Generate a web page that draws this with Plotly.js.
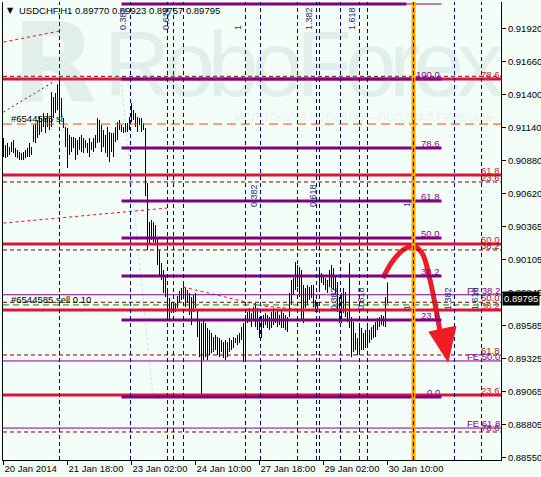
<!DOCTYPE html>
<html><head><meta charset="utf-8">
<script src="https://cdn.plot.ly/plotly-3.0.1.min.js"></script>
<style>html,body{margin:0;padding:0;background:#F4FEF8;overflow:hidden}#chart{width:541px;height:477px}</style>
</head><body><div id="chart"></div>
<script>
// ---- bar data (H1 bars, index 0 = first bar on screen) ----
const highs = [0.91058,0.91003,0.91019,0.90987,0.91026,0.91042,0.90980,0.90964,0.90948,0.90941,
0.90948,0.90964,0.90980,0.91019,0.90987,0.91160,0.91176,0.91199,0.91223,0.91215,
0.91255,0.91215,0.91255,0.91215,0.91419,0.91380,0.91412,0.91480,0.91535,0.91372,
0.91215,0.91144,0.91137,0.91082,0.91066,0.91066,0.91058,0.91042,0.91066,0.91082,
0.91058,0.91042,0.91019,0.91058,0.91026,0.91058,0.91082,0.91215,0.91199,0.91160,
0.91121,0.91082,0.91144,0.91105,0.91098,0.91098,0.91144,0.91183,0.91199,0.91160,
0.91144,0.91176,0.91176,0.91223,0.91333,0.91278,0.91255,0.91223,0.91215,0.91215,
0.91176,0.91137,0.90705,0.90398,0.90414,0.90398,0.90375,0.90280,0.90178,0.90076,
0.90021,0.89966,0.89864,0.89802,0.89770,0.89770,0.89762,0.89817,0.89856,0.89880,
0.89903,0.89880,0.89864,0.89841,0.89809,0.89825,0.89841,0.89707,0.89628,0.89605,
0.89628,0.89605,0.89566,0.89550,0.89527,0.89495,0.89511,0.89495,0.89487,0.89471,
0.89455,0.89471,0.89455,0.89487,0.89471,0.89495,0.89487,0.89511,0.89527,0.89573,
0.89605,0.89668,0.89691,0.89723,0.89684,0.89730,0.89762,0.89723,0.89652,0.89660,
0.89668,0.89684,0.89668,0.89652,0.89691,0.89723,0.89691,0.89707,0.89668,0.89707,
0.89684,0.89668,0.89652,0.89841,0.89943,0.89959,0.90084,0.90060,0.90044,0.90021,
0.89903,0.89880,0.89903,0.89887,0.89903,0.89903,0.89786,0.89770,0.90044,0.89998,
0.89982,0.89959,0.89943,0.90021,0.90060,0.90037,0.89982,0.89927,0.89809,0.89841,
0.89880,0.89848,0.89691,0.90076,0.89652,0.89612,0.89527,0.89487,0.89605,0.89566,
0.89527,0.89550,0.89589,0.89550,0.89573,0.89589,0.89612,0.89644,0.89652,0.89668,
0.89660,0.89809,0.89923];
const lows = [0.90909,0.90901,0.90909,0.90925,0.90948,0.90941,0.90909,0.90901,0.90885,0.90885,
0.90885,0.90901,0.90909,0.90909,0.90925,0.91026,0.91019,0.91058,0.91082,0.91105,
0.91144,0.91098,0.91144,0.91121,0.91144,0.91215,0.91255,0.91278,0.91183,0.91223,
0.91137,0.90987,0.90823,0.90925,0.90948,0.90980,0.90885,0.90925,0.90964,0.90948,
0.90941,0.90980,0.90941,0.90909,0.90964,0.90948,0.90980,0.91019,0.91026,0.90948,
0.90987,0.90941,0.90909,0.90869,0.90948,0.90909,0.91026,0.91042,0.91121,0.91105,
0.91098,0.91105,0.91105,0.91121,0.91183,0.91199,0.91144,0.91105,0.91160,0.91105,
0.91121,0.90602,0.90178,0.90217,0.90257,0.90241,0.90217,0.90060,0.89966,0.89943,
0.89841,0.89809,0.89628,0.89628,0.89684,0.89707,0.89691,0.89723,0.89770,0.89786,
0.89809,0.89730,0.89762,0.89668,0.89589,0.89691,0.89723,0.89495,0.89337,0.89024,
0.89314,0.89337,0.89314,0.89353,0.89369,0.89377,0.89393,0.89353,0.89337,0.89377,
0.89330,0.89314,0.89337,0.89377,0.89393,0.89409,0.89448,0.89432,0.89448,0.89471,
0.89298,0.89314,0.89605,0.89612,0.89573,0.89628,0.89573,0.89550,0.89487,0.89487,
0.89566,0.89589,0.89566,0.89550,0.89566,0.89589,0.89605,0.89573,0.89589,0.89566,
0.89566,0.89550,0.89534,0.89652,0.89746,0.89825,0.89864,0.89887,0.89809,0.89628,
0.89605,0.89723,0.89746,0.89786,0.89802,0.89730,0.89691,0.89691,0.89864,0.89919,
0.89903,0.89864,0.89841,0.89887,0.89880,0.89864,0.89825,0.89691,0.89605,0.89605,
0.89684,0.89652,0.89612,0.89566,0.89337,0.89377,0.89393,0.89353,0.89369,0.89393,
0.89393,0.89409,0.89416,0.89448,0.89471,0.89487,0.89495,0.89550,0.89573,0.89589,
0.89580,0.89573,0.89757];

// ---- header (last bar) ----
const symbolName = 'USDCHF,H1';
const lastOpen = 0.89770, lastHigh = 0.89923, lastLow = 0.89757, lastClose = 0.89795;

// ---- axes ----
const tickIdx = [0, 32, 64, 96, 128, 160, 192];
const tickText = ['20 Jan 2014','21 Jan 18:00','23 Jan 02:00','24 Jan 10:00','27 Jan 18:00','29 Jan 02:00','30 Jan 10:00'];
const priceTicks = [0.91920,0.91660,0.91400,0.91140,0.90880,0.90620,0.90365,0.90105,0.89845,0.89585,0.89325,0.89065,0.88805,0.88550];

// ---- drawn objects ----
const redFibLabels = ['78.6','61.8','50.0','38.2','23.6'];
const redFibPrices = [0.91522,0.90768,0.90226,0.89707,0.89040];
const maroonFibLabels = ['0.0','23.6','38.2','50.0','61.8','78.6'];
const maroonFibPrices = [0.91543,0.90713,0.90179,0.89768,0.89354,0.88749];
const purpleFibLabels = ['','100.0','78.6','61.8','50.0','38.2','23.6','0.0'];
const purpleFibPrices = [0.92111,0.91522,0.90980,0.90563,0.90273,0.89974,0.89629,0.89024];
const feLabels = ['FE 38.2','FE 50.0','FE 61.8'];
const fePrices = [0.89827,0.89307,0.88780];
const orderLabel = '#6544585 sell 0.10';
const orderPrice = 0.89747;
const stopLabel = '#6544585 sl';
const stopPrice = 0.91168;
const timeLines = [28, 63.5, 82, 85, 90, 121, 128.5, 147, 156.5, 158, 168.5, 178, 182, 205, 225.5, 239];
const nowLine = 205;
const tzTopIdx = [63.5, 85, 121, 156.5, 178];
const tzTopText = ['0.382','0.618','1','1.382','1.618'];
const tzMidIdx = [128.5, 158, 205];
const tzMidText = ['0.382','0.618','1'];
const tzLowIdx = [168.5, 182, 205, 225.5, 239];
const tzLowText = ['0.382','0.618','1','1.382','1.618'];
const dashLineAX = [0, 27.75], dashLineAY = [0.91812, 0.91898];
const dotLineBX = [0, 25.75], dotLineBY = [0.91262, 0.91506];
const dashLineCX = [0, 81.75], dashLineCY = [0.90390, 0.90508];
const dotLineDX = [89.75, 129.75, 146.75], dotLineDY = [0.89888, 0.89738, 0.89715];
const faintLineX = [58.75, 74.75], faintLineY = [0.91522, 0.89024];
const arrowX = [189.75, 194.25, 199.75, 204.75, 209.25, 213.25, 217.25, 218.75];
const arrowY = [0.89958, 0.90084, 0.90178, 0.90210, 0.90155, 0.89943, 0.89628, 0.89487];
const arrowHeadX = [212.75, 226.25, 222.25];
const arrowHeadY = [0.89535, 0.89580, 0.89300];

// ---- build ----
const BG = '#F4FEF8';
const FONT = 'Liberation Sans, Arial, sans-serif';
const X0 = 3, W = 498, Y0 = 2, H = 458;
const px = x => (x - X0) / W;
const py = y => (Y0 + H - y) / H;

const segX = [], segY = [];
for (let i = 0; i < highs.length; i++) { segX.push(i, i, null); segY.push(lows[i], highs[i], null); }

const traces = [
  {x: faintLineX, y: faintLineY, mode: 'lines', line: {color: '#D3D8F2', width: 1, dash: '3px,2px'}, hoverinfo: 'skip'},
  {x: segX, y: segY, mode: 'lines', line: {color: '#000', width: 1}, hoverinfo: 'skip'},
  {x: dashLineAX, y: dashLineAY, mode: 'lines', line: {color: '#E8101A', width: 1, dash: '3px,3px'}, hoverinfo: 'skip'},
  {x: dotLineBX, y: dotLineBY, mode: 'lines', line: {color: '#8B0000', width: 1, dash: '2px,3px'}, hoverinfo: 'skip'},
  {x: dashLineCX, y: dashLineCY, mode: 'lines', line: {color: '#E8101A', width: 1, dash: '3px,3px'}, hoverinfo: 'skip'},
  {x: dotLineDX, y: dotLineDY, mode: 'lines', line: {color: '#E8101A', width: 1, dash: '3px,3px'}, hoverinfo: 'skip'},
  {x: arrowX, y: arrowY, mode: 'lines', line: {color: '#EE1C25', width: 5, shape: 'spline', smoothing: 1}, hoverinfo: 'skip'}
];

const shapes = [];
const hl = (y, x0, x1, color, width, dash, ref) => shapes.push({type: 'line', xref: ref || 'x', yref: 'y', x0, x1, y0: y, y1: y, line: {color, width, dash: dash || 'solid'}, layer: 'above'});
maroonFibPrices.forEach(p => hl(p, 0, 1, '#800000', 1, '4px,3px', 'paper'));
fePrices.forEach(p => hl(p, 0, 1, '#800080', 1, 'solid', 'paper'));
hl(stopPrice, 0, 1, '#FF4500', 1, '9px,5px', 'paper');
hl(orderPrice, 0, 1, '#008000', 1, '6px,4px', 'paper');
redFibPrices.forEach(p => hl(p, 0, 1, '#DC143C', 3, 'solid', 'paper'));
purpleFibPrices.forEach((p, k) => {
  if (k === 0) { hl(p, 59, 201.5, '#800080', 3); hl(p, 201.5, 219, '#800080', 1); }
  else hl(p, 59, 219, '#800080', 3);
});
shapes.push({type: 'line', xref: 'x', yref: 'paper', x0: nowLine, x1: nowLine, y0: 0, y1: 1, line: {color: '#FFA500', width: 4}, layer: 'above'});
timeLines.forEach(t => shapes.push({type: 'line', xref: 'x', yref: 'paper', x0: t, x1: t, y0: 0, y1: 1, line: {color: '#000080', width: 1, dash: '4px,3px'}, layer: 'above'}));
shapes.push({type: 'path', xref: 'x', yref: 'y', layer: 'above',
  path: 'M' + arrowHeadX[0] + ',' + arrowHeadY[0] + ' L' + arrowHeadX[1] + ',' + arrowHeadY[1] + ' L' + arrowHeadX[2] + ',' + arrowHeadY[2] + ' Z',
  fillcolor: '#EE1C25', line: {color: '#EE1C25', width: 1}});

const ann = [];
const A = o => ann.push(Object.assign({showarrow: false, font: {family: FONT, size: 9.5, color: '#000'}, borderpad: 0}, o));
// watermark
A({text: '<span style="letter-spacing:-7px">RoboForex</span>', xref: 'paper', yref: 'paper', x: px(303), y: py(64), xanchor: 'center', yanchor: 'middle',
   font: {family: FONT, size: 92, color: 'rgba(100,140,150,0.13)'}});
A({text: 'R', xref: 'paper', yref: 'paper', x: px(54), y: py(64), xanchor: 'center', yanchor: 'middle',
   font: {family: 'DejaVu Sans, sans-serif', size: 110, weight: 'bold', color: 'rgba(100,140,150,0.13)'}});
A({text: 'ИСПОЛЬЗУЙ РОБОТОВ – ПОЛУЧАЙ ПРИБЫЛЬ', xref: 'paper', yref: 'paper', x: px(364), y: py(117), xanchor: 'center', yanchor: 'middle',
   font: {family: FONT, size: 11.5, color: 'rgba(100,140,150,0.12)'}});
// header
A({text: '▼', xref: 'paper', yref: 'paper', x: px(6), y: py(11), xanchor: 'left', yanchor: 'middle', font: {family: 'DejaVu Sans', size: 8, color: '#000'}});
A({text: symbolName + ' ' + [lastOpen, lastHigh, lastLow, lastClose].map(v => v.toFixed(5)).join(' '), xref: 'paper', yref: 'paper', x: px(18), y: py(11), xanchor: 'left', yanchor: 'middle'});
// order labels
A({text: stopLabel, xref: 'paper', yref: 'y', x: px(10), y: stopPrice, xanchor: 'left', yanchor: 'bottom', yshift: -1});
A({text: orderLabel, xref: 'paper', yref: 'y', x: px(10), y: orderPrice, xanchor: 'left', yanchor: 'bottom', yshift: -1});
// fib labels
const fibLab = (t, x, y, c) => A({text: t, xref: x === 'r' ? 'paper' : 'x', x: x === 'r' ? px(500.5) : x, yref: 'y', y, xanchor: 'right', yanchor: 'bottom', yshift: -2, font: {family: FONT, size: 9.5, color: c}});
maroonFibLabels.forEach((t, k) => { if (k > 0) fibLab(t, 'r', maroonFibPrices[k], '#8B1A1A'); });
feLabels.forEach((t, k) => fibLab(t, 'r', fePrices[k], '#8B008B'));
redFibLabels.forEach((t, k) => fibLab(t, 'r', redFibPrices[k], '#DC143C'));
purpleFibLabels.forEach((t, k) => { if (t) fibLab(t, 218.5, purpleFibPrices[k], '#8B008B'); });
// time zone labels
const tz = (idxs, texts, bottomPx) => idxs.forEach((t, k) => A({text: texts[k], xref: 'x', x: t, xshift: -1, xanchor: 'right', yref: 'paper', y: py(bottomPx), yanchor: 'bottom', textangle: -90, font: {family: FONT, size: 9, color: '#1F2A80'}}));
tz(tzTopIdx, tzTopText, 31);
tz(tzMidIdx, tzMidText, 208);
tz(tzLowIdx, tzLowText, 311);
// current price
A({text: lastClose.toFixed(5), xref: 'paper', x: 1, xanchor: 'left', xshift: 1, yref: 'y', y: lastClose, yanchor: 'middle', bgcolor: '#000', borderpad: 1, font: {family: FONT, size: 9.5, color: '#FFF'}});

const layout = {
  width: 541, height: 477, margin: {l: 3, r: 40, t: 2, b: 17, pad: 0},
  paper_bgcolor: BG, plot_bgcolor: BG, showlegend: false,
  font: {family: FONT, size: 9.5, color: '#000'},
  xaxis: {range: [-0.25, 248.75], tickmode: 'array', tickvals: tickIdx, ticktext: tickText, ticks: 'outside', ticklen: 4, tickcolor: '#000',
          showline: true, linecolor: '#000', linewidth: 1, showgrid: false, zeroline: false, ticklabelposition: 'outside right', automargin: false,
          tickfont: {family: FONT, size: 9.5, color: '#000'}},
  yaxis: {range: [0.88529, 0.921266], side: 'right', tickmode: 'array', tickvals: priceTicks, ticktext: priceTicks.map(v => v.toFixed(5)),
          ticks: 'outside', ticklen: 4, tickcolor: '#000', showline: true, mirror: true, linecolor: '#000', linewidth: 1,
          showgrid: false, zeroline: false, automargin: false, tickfont: {family: FONT, size: 9.5, color: '#000'}},
  shapes, annotations: ann
};
Plotly.newPlot('chart', traces, layout, {staticPlot: true, displayModeBar: false});
</script></body></html>
